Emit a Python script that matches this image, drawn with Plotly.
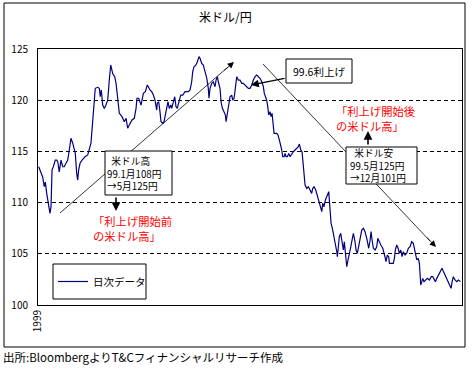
import plotly.graph_objects as go
import pandas as pd

# ---- data (day offset from 1999-01-01, JPY per USD) ----
days = [0.6, 2.6, 4.0, 5.4, 6.3, 7.5, 8.6, 10.3, 11.2, 12.1, 13.2, 14.9, 16.1, 17.0, 18.3, 18.9,
        19.8, 21.3, 22.6, 24.1, 25.6, 26.9, 28.4, 29.9, 31.3, 32.1, 33.3, 34.2, 35.0, 36.2, 37.9,
        39.0, 40.7, 42.8, 44.2, 45.6, 46.5, 47.6, 49.3, 51.4, 52.8, 53.6, 54.5, 55.7, 57.1, 58.5,
        60.0, 61.4, 62.6, 64.3, 66.0, 67.2, 68.3, 70.0, 72.3, 74.3, 75.8, 77.2, 78.6, 80.9, 82.9,
        84.4, 85.2, 86.7, 88.7, 89.5, 90.7, 92.4, 93.0, 94.1, 95.0, 96.4, 97.9, 99.3, 100.7, 102.2,
        102.7, 103.9, 105.0, 105.9, 107.4, 108.5, 109.6, 110.8, 111.9, 113.0, 114.3, 115.1, 116.5,
        117.7, 118.8, 119.9, 121.7, 122.9, 124.6, 126.6, 129.4, 130.9, 132.3, 133.2, 134.3, 136.0,
        137.2, 138.6, 139.5, 140.9, 142.3, 143.8, 145.3, 146.6, 147.2, 148.1, 149.6, 150.9, 152.4,
        153.3, 154.4, 155.2, 156.7, 157.6, 158.7, 160.1, 161.3, 161.9, 163.0, 164.2, 165.3, 166.8,
        167.6, 168.8, 169.9, 171.1, 172.5, 173.9, 175.4, 176.8, 178.2, 179.7, 181.1, 182.5, 184.0,
        185.4, 186.8, 188.3, 189.7, 191.1, 192.6, 194.0, 194.8, 196.0, 196.9, 197.8, 198.6, 199.7,
        200.6, 201.5, 202.1, 202.6, 203.2, 205.5, 206.6, 207.8, 209.0, 209.8, 210.7, 211.8, 212.7,
        213.5, 214.6, 215.9, 217.0, 218.4, 219.8, 221.3, 222.7, 224.1, 225.0, 226.2, 227.3, 228.4,
        229.0, 229.9, 231.4, 232.7, 234.2, 235.6, 236.5, 237.6, 239.1, 240.0, 241.3, 242.2, 243.4,
        244.3, 245.1, 246.2, 247.4, 248.6, 249.4, 250.3, 250.8, 251.4, 252.3, 253.7, 254.9, 256.0,
        257.2, 257.7, 258.6, 259.4, 260.6, 261.5, 262.9, 263.7, 264.6, 265.2, 265.8, 266.9, 268.0,
        269.3, 270.1, 271.5, 272.9, 273.8, 274.9, 276.1, 277.2, 278.7, 280.1, 281.5, 283.0, 283.8,
        284.7, 285.9, 286.7, 287.6, 288.7, 290.2, 291.6, 292.5, 293.6, 295.1, 296.8, 298.2, 299.0,
        299.6, 300.7, 301.9, 302.5, 305.9, 306.8, 307.6, 308.8, 310.0, 311.1, 312.3, 313.4, 314.5,
        316.0, 317.4, 318.8, 320.3, 321.7, 323.1, 324.0, 325.2, 326.1, 327.4, 328.3, 328.9, 329.5,
        330.4, 331.2, 332.3, 333.5, 335.2, 336.9, 338.6, 339.8, 341.0, 342.1, 343.3, 344.7, 346.1,
        347.8, 349.0, 350.4, 351.9, 353.3, 354.7, 355.6, 356.5, 357.6, 359.0, 360.5, 361.9, 363.6]

usdjpy = [113.5, 112.86, 112.5, 111.55, 112.0, 110.9, 110.25, 108.95, 109.6, 113.2, 113.5, 114.15,
          114.15, 114.0, 113.0, 113.7, 114.15, 113.5, 113.5, 113.84, 114.15, 115.14, 116.28, 115.8,
          115.14, 114.8, 112.86, 112.2, 113.2, 113.84, 114.15, 114.3, 114.5, 114.65, 115.14, 115.8,
          117.1, 118.7, 121.16, 121.26, 121.16, 120.34, 121.0, 119.53, 119.2, 119.53, 120.0, 122.0,
          123.44, 122.6, 122.3, 121.65, 120.67, 118.72, 118.39, 117.9, 118.23, 117.26, 117.58,
          118.07, 118.23, 119.2, 120.19, 120.19, 119.53, 120.0, 120.67, 120.83, 121.16, 121.48,
          121.32, 121.0, 120.83, 120.5, 120.0, 119.04, 119.7, 119.85, 118.88, 117.9, 117.74, 117.9,
          118.55, 119.37, 119.85, 119.2, 119.53, 119.2, 120.0, 120.34, 119.37, 119.2, 120.0, 120.5,
          120.5, 120.83, 120.83, 121.0, 121.8, 122.8, 123.27, 123.44, 123.76, 124.25, 124.09, 123.6,
          123.44, 122.78, 122.14, 121.16, 120.19, 121.16, 121.65, 121.8, 121.32, 121.97, 122.3,
          121.8, 121.16, 119.85, 119.2, 118.88, 118.55, 117.9, 118.72, 119.2, 120.34, 120.5, 120.0,
          120.19, 121.48, 122.3, 121.97, 121.97, 121.65, 121.65, 121.48, 121.32, 121.16, 121.16,
          121.48, 121.97, 122.3, 122.46, 122.3, 122.14, 121.8, 121.32, 120.67, 120.34, 120.0,
          119.37, 118.55, 118.88, 118.39, 118.72, 118.07, 117.41, 116.77, 116.77, 116.6, 116.11,
          115.63, 115.14, 114.48, 114.48, 114.8, 114.48, 114.48, 114.8, 114.48, 114.8, 114.97,
          115.14, 115.3, 115.46, 115.72, 115.14, 114.97, 113.84, 112.86, 111.72, 111.39, 111.55,
          111.23, 110.9, 111.39, 111.55, 111.23, 110.9, 110.42, 109.93, 109.6, 109.11, 109.93,
          109.6, 110.25, 110.58, 110.9, 111.07, 110.25, 109.28, 107.98, 107.32, 106.67, 106.03,
          105.2, 104.71, 105.69, 106.67, 107.0, 106.18, 105.37, 106.18, 105.05, 104.4, 103.74,
          104.4, 105.2, 105.69, 106.18, 107.0, 106.18, 105.37, 105.05, 105.69, 106.18, 107.32,
          107.49, 107.16, 106.51, 106.03, 105.54, 106.35, 107.16, 106.35, 105.54, 105.37, 105.69,
          106.51, 106.18, 105.86, 105.54, 105.05, 104.56, 104.23, 104.88, 104.72, 104.07, 104.07,
          104.56, 105.37, 105.86, 105.54, 105.05, 105.37, 104.72, 105.2, 104.88, 105.05, 105.54,
          105.69, 106.18, 106.02, 105.37, 104.88, 104.4, 104.56, 104.07, 103.1, 101.95, 102.28,
          102.6, 102.28, 102.44, 102.6, 102.44, 102.77, 102.77, 102.44, 102.28, 102.6, 102.93,
          103.1, 103.58, 103.26, 102.93, 102.6, 102.28, 101.95, 101.63, 102.28, 102.77, 102.44,
          102.28, 102.44, 102.28]

y_ticks = [100, 105, 110, 115, 120, 125]
x_tick_label = "1999"
title_text = "米ドル/円"
series_name = "日次データ"
source_text = "出所:BloombergよりT&Cフィナンシャルリサーチ作成"
box_rise_lines = ["\u00a0\u00a0米ドル高", "99.1月108円", "→5月125円"]
box_fall_lines = ["\u00a0\u00a0米ドル安", "99.5月125円", "→12月101円"]
box_hike = "99.6利上げ"
note_before_lines = ["「利上げ開始前", "の米ドル高」"]
note_after_lines = ["「利上げ開始後", "の米ドル高」"]

dates = pd.Timestamp("1999-01-01") + pd.to_timedelta(days, unit="D")

# ---- layout geometry (pixels) ----
W, H = 473, 369
L, R, T, B = 38, 462, 49, 305


def fx(x):
    return (x - L) / (R - L)


def fy(y):
    return (B - y) / (B - T)


FONT = "Noto Sans CJK JP, Liberation Sans, sans-serif"

fig = go.Figure()
fig.add_trace(go.Scatter(x=dates, y=usdjpy, mode="lines", name=series_name,
                         line=dict(color="#000080", width=1.2), showlegend=True))


def text_ann(text, x, y, size, color="black", xanchor="left"):
    return dict(text=text, x=fx(x), y=fy(y), xref="paper", yref="paper", showarrow=False,
                xanchor=xanchor, yanchor="middle", align="left", borderpad=0, borderwidth=0,
                font=dict(size=size, color=color))


def arrow_ann(tip_x, tip_y, tail_x, tail_y, width, size):
    return dict(text="", x=fx(tip_x), y=fy(tip_y), xref="paper", yref="paper", showarrow=True,
                ax=tail_x - tip_x, ay=tail_y - tip_y, arrowhead=2, arrowsize=size,
                arrowwidth=width, arrowcolor="black", standoff=0)


def line_shape(x0, y0, x1, y1, width):
    return dict(type="line", xref="paper", yref="paper", x0=fx(x0), y0=fy(y0), x1=fx(x1),
                y1=fy(y1), line=dict(color="black", width=width), layer="above")


def box_shape(x0, x1, y0, y1):
    return dict(type="rect", xref="paper", yref="paper", x0=fx(x0), x1=fx(x1), y0=fy(y1),
                y1=fy(y0), line=dict(color="black", width=1), fillcolor="white", layer="above")


annotations = [
    text_ann(title_text, 225, 16, 12, xanchor="center"),
    text_ann(source_text, 3, 357, 11.5),
    # arrowheads of the trend lines
    arrow_ann(234, 62, 222.7, 71.8, 0.8, 1.6),
    arrow_ann(436, 247, 425.7, 236.1, 0.8, 1.6),
    # box pointers
    arrow_ann(251, 85, 286, 78, 1.3, 1.2),
    arrow_ann(116, 211, 116, 196, 1.6, 1.1),
    arrow_ann(368, 131, 368, 146, 1.6, 1.1),
    # box texts
    text_ann("<br>".join(box_rise_lines), 107, 173.3, 9.7),
    text_ann("<br>".join(box_fall_lines), 349.5, 165, 9.7),
    text_ann(box_hike, 319, 71, 10.5, xanchor="center"),
    # red notes
    text_ann("<br>".join(note_before_lines), 93, 228.6, 11.3, color="#ff0000"),
    text_ann("<br>".join(note_after_lines), 336, 118.3, 11.3, color="#ff0000"),
]

shapes = [
    # outer chart frame
    dict(type="rect", xref="paper", yref="paper", x0=fx(4), x1=fx(465), y0=fy(347), y1=fy(3),
         line=dict(color="black", width=1), fillcolor="rgba(0,0,0,0)", layer="above"),
    # trend lines (drawn before boxes so the boxes hide them)
    line_shape(60, 213, 228, 67, 0.8),
    line_shape(263, 64, 430, 241, 0.8),
    # annotation boxes
    box_shape(105, 172, 151, 195),
    box_shape(346, 417, 147, 184),
    box_shape(286, 352, 59, 83),
    # legend frame
    box_shape(53, 146, 264, 299),
]

fig.update_layout(
    width=W, height=H, autosize=False,
    margin=dict(l=L, r=W - R, t=T, b=H - B, pad=0),
    paper_bgcolor="white", plot_bgcolor="white",
    font=dict(family=FONT, size=10, color="black"),
    showlegend=True,
    legend=dict(x=fx(53), y=fy(281.5), xanchor="left", yanchor="middle",
                bgcolor="rgba(0,0,0,0)", borderwidth=0, font=dict(size=10.5)),
    annotations=annotations,
    shapes=shapes,
)

fig.update_xaxes(type="date", range=["1999-01-01", "2000-01-01"],
                 tickvals=["1999-01-01"], ticktext=[x_tick_label], tickangle=-90,
                 showgrid=False, zeroline=False, showline=True, mirror=True,
                 linecolor="black", linewidth=1, ticks="", tickfont=dict(size=10))
fig.update_yaxes(range=[100, 125], tickvals=y_ticks, ticktext=[str(v) for v in y_ticks],
                 showgrid=True, gridcolor="black", gridwidth=1, griddash="4px,3px",
                 zeroline=False, showline=True, mirror=True, linecolor="black", linewidth=1,
                 ticks="", ticklabelstandoff=7, tickfont=dict(size=10))

fig.write_html("out.html", config={"displayModeBar": False},
               post_script="document.body.style.margin='0';document.body.style.padding='0';")
